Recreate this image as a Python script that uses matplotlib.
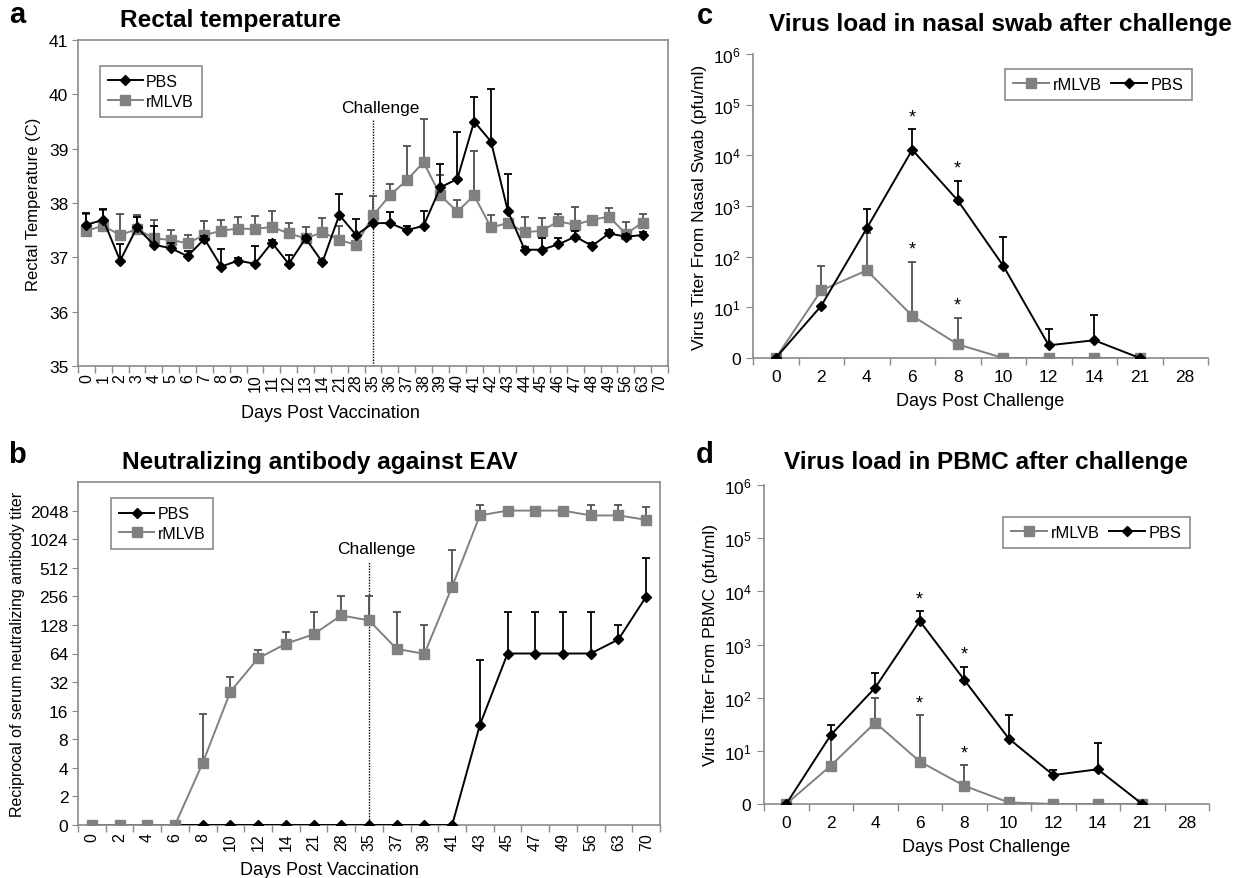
import numpy as np
import matplotlib
matplotlib.use('Agg')
import matplotlib.pyplot as plt
from matplotlib.ticker import FixedLocator, NullFormatter, FixedFormatter, NullLocator

plt.rcParams['font.family'] = ['Liberation Sans', 'DejaVu Sans']
plt.rcParams['mathtext.fontset'] = 'custom'
plt.rcParams['mathtext.rm'] = 'Liberation Sans'
plt.rcParams['mathtext.it'] = 'Liberation Sans:italic'
plt.rcParams['mathtext.bf'] = 'Liberation Sans:bold'

# ---------------- data ----------------
# Panel a: rectal temperature
days_a = ['0', '1', '2', '3', '4', '5', '6', '7', '8', '9', '10', '11', '12', '13', '14',
          '21', '28', '35', '36', '37', '38', '39', '40', '41', '42', '43', '44', '45',
          '46', '47', '48', '49', '56', '63', '70']
temp_pbs = [37.60, 37.69, 36.94, 37.55, 37.23, 37.17, 37.02, 37.34, 36.83, 36.94, 36.88,
            37.27, 36.88, 37.35, 36.91, 37.78, 37.41, 37.63, 37.63, 37.50, 37.58, 38.29,
            38.44, 39.50, 39.13, 37.85, 37.14, 37.14, 37.24, 37.38, 37.21, 37.44, 37.38, 37.41]
temp_pbs_sd = [0.22, 0.20, 0.30, 0.20, 0.35, 0.10, 0.10, 0.05, 0.32, 0.05, 0.32, 0.05, 0.17,
               0.05, 0.05, 0.39, 0.29, 0.00, 0.20, 0.07, 0.27, 0.43, 0.86, 0.45, 0.97, 0.68,
               0.05, 0.21, 0.11, 0.10, 0.05, 0.06, 0.05, 0.05]
temp_rmlvb = [37.49, 37.58, 37.41, 37.52, 37.35, 37.32, 37.26, 37.41, 37.49, 37.53, 37.52,
              37.56, 37.44, 37.35, 37.46, 37.32, 37.23, 37.77, 38.14, 38.42, 38.75, 38.14,
              37.84, 38.14, 37.55, 37.63, 37.46, 37.49, 37.66, 37.60, 37.69, 37.75, 37.43, 37.64]
temp_rmlvb_sd = [0.31, 0.30, 0.39, 0.26, 0.33, 0.18, 0.16, 0.25, 0.19, 0.21, 0.24, 0.29, 0.20,
                 0.20, 0.26, 0.26, 0.05, 0.35, 0.21, 0.63, 0.80, 0.38, 0.21, 0.81, 0.23, 0.05,
                 0.29, 0.24, 0.14, 0.33, 0.03, 0.15, 0.22, 0.15]

# Panel b: neutralizing antibody titer
days_b = ['0', '2', '4', '6', '8', '10', '12', '14', '21', '28', '35', '37', '39', '41',
          '43', '45', '47', '49', '56', '63', '70']
nab_pbs = [0, 0, 0, 0, 0, 0, 0, 0, 0, 0, 0, 0, 0, 0, 11.3, 64, 64, 64, 64, 90, 254]
nab_pbs_sd = [0, 0, 0, 0, 0, 0, 0, 0, 0, 0, 0, 0, 0, 0, 43.7, 110, 110, 110, 110, 38, 394]
nab_rmlvb = [0, 0, 0, 0, 4.5, 25.4, 57, 81, 102, 161, 143, 71.5, 63.5, 324, 1820, 2048,
             2048, 2048, 1820, 1820, 1640]
nab_rmlvb_sd = [0, 0, 0, 0, 10.3, 10.6, 13, 27, 72, 95, 113, 102.5, 64.5, 463, 533, 0, 0, 0,
                533, 533, 585]
nab_ticks = [0, 2, 4, 8, 16, 32, 64, 128, 256, 512, 1024, 2048]

# Panels c, d: virus load after challenge
days_cd = ['0', '2', '4', '6', '8', '10', '12', '14', '21', '28']
nasal_pbs = [0, 10.7, 363, 12900, 1290, 66, 1.78, 2.24, 0]
nasal_pbs_sd = [0, 0, 517, 20100, 1860, 184, 2.02, 4.76, 0]
nasal_rmlvb = [0, 21.6, 53.6, 6.8, 1.86, 0, 0, 0, 0]
nasal_rmlvb_sd = [0, 43.4, 246, 73.2, 4.34, 0, 0, 0, 0]
nasal_star_pbs = ['6', '8']
nasal_star_rmlvb = ['6', '8']

pbmc_pbs = [0, 19.8, 155, 2770, 216, 17, 3.5, 4.5, 0]
pbmc_pbs_sd = [0, 10.7, 130, 1460, 169, 31, 0.85, 9.5, 0]
pbmc_rmlvb = [0, 5.25, 34, 6.3, 2.2, 1.07, 0, 0, 0]
pbmc_rmlvb_sd = [0, 15, 66, 40.7, 3.2, 0, 0, 0, 0]
pbmc_star_pbs = ['6', '8']
pbmc_star_rmlvb = ['6', '8']

# ---------------- styling ----------------
GRAY = '#808080'
AXGRAY = '#8a8a8a'
W, H = 1237, 879

fig = plt.figure(figsize=(W / 100, H / 100), dpi=100)


def rect(l, t, r, b):
    return [l / W, 1 - b / H, (r - l) / W, (b - t) / H]


def cat_axis(ax, labels, rotation=0, size=11, pad=3):
    n = len(labels)
    ax.set_xlim(-0.5, n - 0.5)
    ax.xaxis.set_major_locator(FixedLocator(np.arange(n + 1) - 0.5))
    ax.xaxis.set_major_formatter(NullFormatter())
    ax.xaxis.set_minor_locator(FixedLocator(np.arange(n)))
    ax.xaxis.set_minor_formatter(FixedFormatter(labels))
    ax.tick_params(axis='x', which='major', direction='out', length=5, color=AXGRAY, width=1)
    ax.tick_params(axis='x', which='minor', length=0, labelsize=size,
                   labelrotation=rotation, pad=pad)


def series(ax, y, sd, color, marker, ms, z, label, floor=None, ecolor=None):
    y = np.asarray(y, float)
    sd = np.asarray(sd, float)
    x = np.arange(len(y))
    yp = np.maximum(y, floor) if floor is not None else y
    m = sd > 0
    ax.errorbar(x[m], yp[m], yerr=[np.zeros(m.sum()), sd[m]], fmt='none',
                ecolor=ecolor or color, elinewidth=1.3, capsize=3.2, capthick=1.3, zorder=z - 0.5)
    line, = ax.plot(x, yp, color=color, marker=marker, ms=ms, lw=1.4, zorder=z, label=label,
                    mec=color, mfc=color)
    return line


def style_box(ax):
    for s in ax.spines.values():
        s.set_color(AXGRAY)
        s.set_linewidth(1.2)


def style_open(ax):
    for s in ['top', 'right']:
        ax.spines[s].set_visible(False)
    for s in ['left', 'bottom']:
        ax.spines[s].set_color(AXGRAY)
        ax.spines[s].set_linewidth(1.2)


def legend(ax, handles, x, y, ncol=1, size=11.5):
    lg = ax.legend(handles=handles, loc='upper left', bbox_to_anchor=(x, y), ncol=ncol,
                   fontsize=size, frameon=True, fancybox=False, framealpha=1,
                   edgecolor=AXGRAY, borderaxespad=0, handlelength=2.2, handletextpad=0.2,
                   columnspacing=0.6, labelspacing=0.3, borderpad=0.5)
    lg.get_frame().set_linewidth(1.2)
    return lg


def challenge(ax, labels, frac):
    idx = labels.index('35')
    ax.axvline(idx, ymin=0, ymax=frac, color='black', ls=(0, (1, 1)), lw=1.0, zorder=1)
    ax.annotate('Challenge', xy=(idx, frac + 0.035), xycoords=('data', 'axes fraction'),
                xytext=(5, 0), textcoords='offset points', ha='center', va='center',
                fontsize=12.5)


# ---------------- Panel a ----------------
axA = fig.add_axes(rect(78, 41, 668, 367))
style_box(axA)
cat_axis(axA, days_a, rotation=90, size=11.5, pad=5)
axA.set_ylim(35, 41)
axA.set_yticks(np.arange(35, 42))
axA.tick_params(axis='y', direction='out', length=4, color=AXGRAY, labelsize=12.5, pad=3)
hr = series(axA, temp_rmlvb, temp_rmlvb_sd, GRAY, 's', 7.5, 3, 'rMLVB', ecolor='#505050')
hp = series(axA, temp_pbs, temp_pbs_sd, 'black', 'D', 5.5, 4, 'PBS')
challenge(axA, days_a, 0.758)
axA.set_ylabel('Rectal Temperature (C)', fontsize=12, labelpad=6)
legend(axA, [hp, hr], 0.037, 0.92)

# ---------------- Panel b ----------------
axB = fig.add_axes(rect(78, 483, 660, 826))
style_box(axB)
cat_axis(axB, days_b, rotation=90, size=11.5, pad=5)
axB.set_yscale('log', base=2)
axB.set_ylim(1, 4096)
axB.yaxis.set_major_locator(FixedLocator([max(v, 1) for v in nab_ticks]))
axB.yaxis.set_major_formatter(FixedFormatter([str(v) for v in nab_ticks]))
axB.yaxis.set_minor_locator(NullLocator())
axB.tick_params(axis='y', direction='out', length=4, color=AXGRAY, labelsize=12.5, pad=3)
hp2 = series(axB, nab_pbs, nab_pbs_sd, 'black', 'D', 5.5, 3, 'PBS', floor=1)
hr2 = series(axB, nab_rmlvb, nab_rmlvb_sd, GRAY, 's', 7.5, 4, 'rMLVB', floor=1,
             ecolor='#505050')
challenge(axB, days_b, 0.77)
axB.set_ylabel('Reciprocal of serum neutralizing antibody titer', fontsize=11.5, labelpad=3)
legend(axB, [hp2, hr2], 0.057, 0.953)


# ---------------- Panels c, d ----------------
def virus_panel(ax, pbs, pbs_sd, rml, rml_sd, star_p, star_r, ylabel, lx, ly):
    style_open(ax)
    cat_axis(ax, days_cd, rotation=0, size=12.5, pad=8)
    ax.set_yscale('log')
    ax.set_ylim(1, 1e6)
    yt = [10.0 ** k for k in range(7)]
    ax.yaxis.set_major_locator(FixedLocator(yt))
    ax.yaxis.set_major_formatter(FixedFormatter(
        ['0'] + [r'$\mathregular{10^{%d}}$' % k for k in range(1, 7)]))
    ax.yaxis.set_minor_locator(NullLocator())
    ax.tick_params(axis='y', direction='out', length=5, color=AXGRAY, labelsize=12.5, pad=4)
    hr_ = series(ax, rml, rml_sd, GRAY, 's', 7.8, 3, 'rMLVB', floor=1, ecolor='#505050')
    hp_ = series(ax, pbs, pbs_sd, 'black', 'D', 5.5, 4, 'PBS', floor=1)
    for lab in star_p:
        i = days_cd.index(lab)
        ax.annotate('*', xy=(i, pbs[i] + pbs_sd[i]), xytext=(0, 9), textcoords='offset points',
                    ha='center', va='center', fontsize=13)
    for lab in star_r:
        i = days_cd.index(lab)
        ax.annotate('*', xy=(i, rml[i] + rml_sd[i]), xytext=(0, 9), textcoords='offset points',
                    ha='center', va='center', fontsize=13)
    ax.set_ylabel(ylabel, fontsize=12.5, labelpad=4)
    ax.set_xlabel('Days Post Challenge', fontsize=13, labelpad=6)
    legend(ax, [hr_, hp_], lx, ly, ncol=2, size=11.8)


# c: axes 753..1208 x 55..359 ; legend 1005..1186 x 70..108
axC = fig.add_axes(rect(753, 55, 1208, 359))
virus_panel(axC, nasal_pbs, nasal_pbs_sd, nasal_rmlvb, nasal_rmlvb_sd, nasal_star_pbs,
            nasal_star_rmlvb, 'Virus Titer From Nasal Swab (pfu/ml)',
            (1005 - 753) / 455, 1 - (70 - 55) / 304)

# d: axes 764..1209 x 486..805 ; legend 1003..1182 x 518..558
axD = fig.add_axes(rect(764, 486, 1209, 805))
virus_panel(axD, pbmc_pbs, pbmc_pbs_sd, pbmc_rmlvb, pbmc_rmlvb_sd, pbmc_star_pbs,
            pbmc_star_rmlvb, 'Virus Titer From PBMC (pfu/ml)',
            (1003 - 764) / 445, 1 - (518 - 486) / 319)

# x labels for a, b
fig.text(330 / W, 1 - 414 / H, 'Days Post Vaccination', ha='center', va='center', fontsize=13)
fig.text(329 / W, 1 - 871 / H, 'Days Post Vaccination', ha='center', va='center', fontsize=13)

# titles and panel letters
tkw = dict(ha='center', va='center', fontsize=17.6, fontweight='bold')
fig.text(231 / W, 1 - 21 / H, 'Rectal temperature', **tkw)
fig.text(320 / W, 1 - 462 / H, 'Neutralizing antibody against EAV', **tkw)
fig.text(1000 / W, 1 - 25 / H, 'Virus load in nasal swab after challenge', **tkw)
fig.text(986 / W, 1 - 463 / H, 'Virus load in PBMC after challenge', **tkw)
lkw = dict(ha='center', va='center', fontsize=21, fontweight='bold')
fig.text(17 / W, 1 - 15 / H, 'a', **lkw)
fig.text(17 / W, 1 - 455 / H, 'b', **lkw)
fig.text(705 / W, 1 - 16 / H, 'c', **lkw)
fig.text(705 / W, 1 - 455 / H, 'd', **lkw)

fig.savefig('out.png', dpi=100)
